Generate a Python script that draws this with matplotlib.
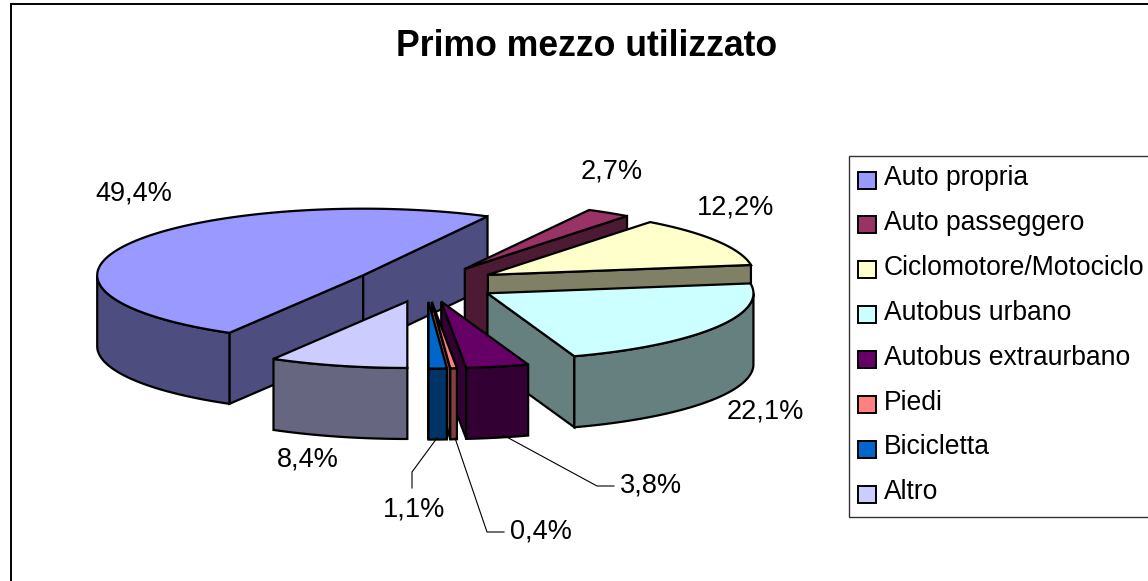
import numpy as np
import matplotlib
matplotlib.use('Agg')
import matplotlib.pyplot as plt
from matplotlib.colors import to_rgb
from matplotlib.patches import Polygon, Rectangle

plt.rcParams['font.family'] = ['Liberation Sans', 'DejaVu Sans']

# Data
categories = ['Auto propria', 'Auto passeggero', 'Ciclomotore/Motociclo', 'Autobus urbano',
              'Autobus extraurbano', 'Piedi', 'Bicicletta', 'Altro']
values = [49.4, 2.7, 12.2, 22.1, 3.8, 0.4, 1.1, 8.4]
colors = ['#9999FF', '#993366', '#FFFFCC', '#CCFFFF', '#660066', '#FF8080', '#0066CC', '#CCCCFF']

# Layout, in pixels of the picture
center_x, center_y = 426, 284
radius_x, radius_y = 266, 66.6
depth = 71
explode = 0.27
start_angle = 239.8
draw_order = [0, 1, 2, 3, 7, 4, 5, 6]
label_pos = [(134, 194), (612, 171), (736, 208), (765, 412), (651, 485), (541, 532), (414, 510), (308, 459)]
leaders = [[(503, 435), (597, 486), (614, 486)],
           [(455, 438), (487, 532), (504, 532)],
           [(437, 438), (412, 472), (412, 488)]]

fig = plt.figure(figsize=(11.48, 5.81), dpi=100)
ax = fig.add_axes([0, 0, 1, 1])
ax.set_xlim(0, 1148)
ax.set_ylim(581, 0)
ax.axis('off')

# Chart border
ax.add_patch(Rectangle((11, 4), 1200, 700, fc='white', ec='black', lw=1.4))


def shade(color, k=0.5):
    return tuple(c * k for c in to_rgb(color))


def rim(cx, cy, t):
    t = np.radians(t)
    return np.column_stack([cx + radius_x * np.cos(t), cy - radius_y * np.sin(t)])


def face(points, color):
    ax.add_patch(Polygon(points, closed=True, fc=color, ec='black', lw=1.6, joinstyle='miter'))


# Angles go clockwise from the start angle, as in the spreadsheet pie
total = sum(values)
ends = start_angle - np.cumsum(values) / total * 360
starts = np.concatenate([[start_angle], ends[:-1]])

for i in draw_order:
    t0, t1 = starts[i], ends[i]
    mid = np.radians((t0 + t1) / 2)
    cx = center_x + explode * radius_x * np.cos(mid)
    cy = center_y - explode * radius_y * np.sin(mid)
    side = shade(colors[i])
    apex = np.array([[cx, cy]])
    drop = np.array([0, depth])

    # Radial walls that face the viewer
    for t, seen in ((t0, np.cos(np.radians(t0)) < 0), (t1, np.cos(np.radians(t1)) > 0)):
        if seen:
            edge = rim(cx, cy, np.array([t]))
            face(np.vstack([apex, edge, edge + drop, apex + drop]), side)

    # Outer wall, only the front part of the arc
    ts = np.linspace(t0, t1, 300)
    front = ts[np.sin(np.radians(ts)) < 0]
    if len(front) > 1:
        arc = rim(cx, cy, front)
        face(np.vstack([arc, (arc + drop)[::-1]]), side)

    # Top of the slice
    face(np.vstack([apex, rim(cx, cy, ts)]), colors[i])

# Value labels and leader lines
for v, (x, y) in zip(values, label_pos):
    ax.text(x, y, f'{v:.1f}'.replace('.', ',') + '%', fontsize=19.5, ha='center', va='center', color='black')
for line in leaders:
    xs, ys = zip(*line)
    ax.plot(xs, ys, color='black', lw=0.8)

ax.text(587, 47, 'Primo mezzo utilizzato', fontsize=25.7, fontweight='bold', ha='center', va='center')

# Legend
ax.add_patch(Rectangle((849, 156), 400, 361, fc='white', ec='#333333', lw=1.0))
for k, (name, c) in enumerate(zip(categories, colors)):
    y = 180 + k * 44.9
    ax.add_patch(Rectangle((858, y - 8.5), 18, 17, fc=c, ec='black', lw=1.4))
    ax.text(884, y - 2, name, fontsize=19.1, ha='left', va='center', color='black')

fig.savefig('out.png', dpi=100)
